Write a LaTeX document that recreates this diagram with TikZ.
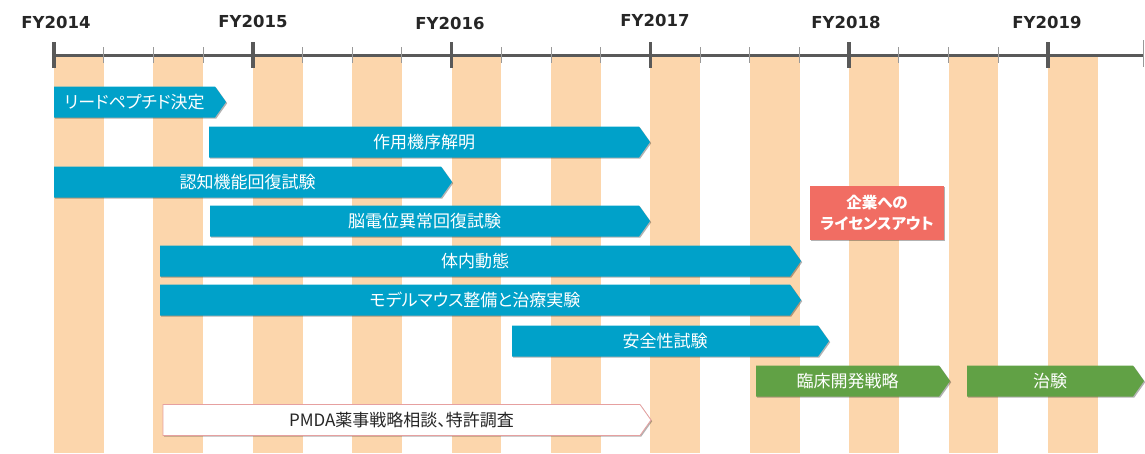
\documentclass[tikz,border=0pt]{standalone}
\usepackage{fontspec}
\setmainfont{DejaVu Sans}
\newfontfamily\cjk[RawFeature=+palt]{Noto Sans CJK JP}
\usetikzlibrary{shadows}
\definecolor{stripe}{RGB}{252,214,172}
\definecolor{axisgray}{RGB}{89,89,89}
\definecolor{barblue}{RGB}{0,161,201}
\definecolor{bargreen}{RGB}{97,161,69}
\definecolor{licred}{RGB}{241,109,99}
\definecolor{pmdaborder}{RGB}{230,160,160}
\definecolor{labeltext}{RGB}{38,38,38}
\tikzset{
 stripebox/.style={fill=stripe, draw=none},
 axisline/.style={draw=axisgray, line width=3pt},
 majortick/.style={draw=axisgray, line width=3.5pt},
 minortick/.style={draw=gray!80, line width=1pt},
 yearlabel/.style={font=\fontsize{16.5}{18}\selectfont\bfseries, text=labeltext, inner sep=0pt},
 barshadow/.style={drop shadow={shadow xshift=1.2pt, shadow yshift=-1.2pt, opacity=0.3, fill=black}},
 bluebar/.style={fill=barblue, barshadow},
 greenbar/.style={fill=bargreen, barshadow},
 pmdabar/.style={fill=white, draw=pmdaborder, line width=0.8pt, barshadow},
 bartext/.style={font=\cjk\fontsize{17}{19}\selectfont, text=white, inner sep=0pt},
 pmdatext/.style={bartext, text=labeltext},
 licbox/.style={fill=licred, barshadow, text=white, font=\cjk\bfseries\fontsize{15.5}{21}\selectfont, align=center, minimum width=134pt, minimum height=54pt, inner sep=0pt},
}
% #1 name, #2 left x, #3 tip x, #4 centre y, #5 shape style, #6 text style, #7 text
\newcommand{\tlbar}[7]{%
 \path[#5] (#2,#4-15.5) -- ({#3-11},#4-15.5) -- (#3,#4) -- ({#3-11},#4+15.5) -- (#2,#4+15.5) -- cycle;
 \node[#6] (#1) at ({(#2+#3-11)/2},#4) {#7};
}
\begin{document}
\begin{tikzpicture}[x=1pt,y=-1pt]
\useasboundingbox (0,0) rectangle (1145,453);
% stripes
\foreach \k in {0,...,10}
  \fill[stripebox] ({54+99.4*\k},57) rectangle ({54+99.4*\k+49.7},453);
% axis
\draw[axisline] (54,55) -- (1143,55);
\foreach \q in {0,...,20} {
  \pgfmathtruncatemacro{\m}{mod(\q,4)}
  \ifnum\m=0
    \draw[majortick] ({54+49.7*\q},42) -- ({54+49.7*\q},68);
  \else
    \draw[minortick] ({54+49.7*\q},47) -- ({54+49.7*\q},63);
  \fi
}
\draw[minortick] (1143,40) -- (1143,67);
% year labels
\node[yearlabel] (fy14) at (56,22) {FY2014};
\node[yearlabel] (fy15) at (253,21) {FY2015};
\node[yearlabel] (fy16) at (450,23) {FY2016};
\node[yearlabel] (fy17) at (655,20) {FY2017};
\node[yearlabel] (fy18) at (846,22) {FY2018};
\node[yearlabel] (fy19) at (1047,22) {FY2019};
% bars
\tlbar{lead}{54}{226}{102}{bluebar}{bartext}{リードペプチド決定}
\tlbar{moa}{209}{650}{142}{bluebar}{bartext}{作用機序解明}
\tlbar{cog}{54}{452}{182}{bluebar}{bartext}{認知機能回復試験}
\tlbar{eeg}{210}{650}{221}{bluebar}{bartext}{脳電位異常回復試験}
\tlbar{pk}{160}{801}{261}{bluebar}{bartext}{体内動態}
\tlbar{model}{160}{801}{300}{bluebar}{bartext}{モデルマウス整備と治療実験}
\tlbar{safety}{512}{829}{341}{bluebar}{bartext}{安全性試験}
\tlbar{clin}{756}{950}{381}{greenbar}{bartext}{臨床開発戦略}
\tlbar{trial}{967}{1144}{381}{greenbar}{bartext}{治験}
\tlbar{pmda}{163}{651}{420}{pmdabar}{pmdatext}{PMDA薬事戦略相談、特許調査}
% licence-out box
\node[licbox] (lic) at (877,213) {企業への\\ライセンスアウト};
\end{tikzpicture}
\end{document}
